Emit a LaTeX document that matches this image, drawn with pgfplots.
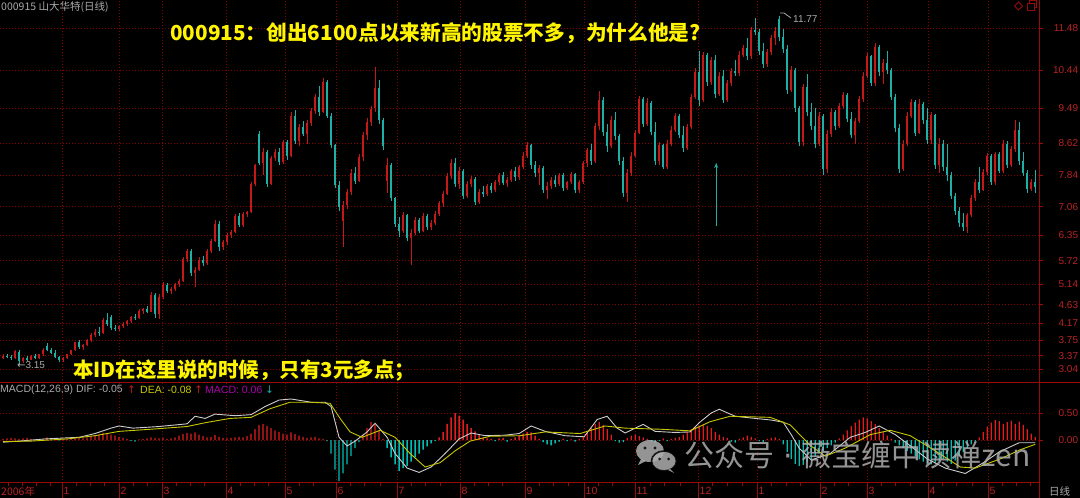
\documentclass[border=0pt]{standalone}
\usepackage{pgfplots}
\pgfplotsset{compat=1.18}
\usepackage{pgfplotstable}
\usepackage{fontspec}
\setmainfont{Liberation Sans}
\newfontfamily\cjk{Noto Sans CJK SC}
\newfontfamily\dejavu{DejaVu Sans}
\usetikzlibrary{arrows.meta}

\definecolor{kred}{RGB}{195,25,25}
\definecolor{kteal}{RGB}{30,175,165}
\definecolor{hred}{RGB}{225,30,30}
\definecolor{hteal}{RGB}{0,190,180}
\definecolor{gridred}{RGB}{135,0,0}
\definecolor{axred}{RGB}{150,10,10}
\definecolor{lblred}{RGB}{185,35,35}
\definecolor{difc}{RGB}{205,205,205}
\definecolor{deac}{RGB}{200,200,0}
\definecolor{txtgray}{RGB}{170,170,170}
\definecolor{ttl}{RGB}{255,245,0}
\definecolor{macdc}{RGB}{175,0,175}
\definecolor{wmgray}{RGB}{175,175,175}

% daily candles: index, open, high, low, close, macd bar
\pgfplotstableread{
i o h l c m
0 3.32 3.40 3.28 3.36 0.02
1 3.36 3.42 3.30 3.33 0.03
2 3.33 3.38 3.26 3.30 0.04
3 3.30 3.52 3.28 3.48 0.03
4 3.46 3.50 3.15 3.24 0.02
5 3.24 3.34 3.20 3.31 0.03
6 3.31 3.36 3.24 3.27 0.04
7 3.27 3.38 3.25 3.35 0.02
8 3.35 3.40 3.28 3.30 0.01
9 3.30 3.42 3.28 3.40 -0.01
10 3.40 3.55 3.36 3.52 0.02
11 3.60 3.68 3.48 3.50 0.05
12 3.50 3.56 3.40 3.44 0.04
13 3.44 3.50 3.30 3.33 0.01
14 3.33 3.36 3.21 3.25 -0.01
15 3.25 3.34 3.22 3.31 0.01
16 3.31 3.42 3.29 3.40 0.02
17 3.40 3.52 3.38 3.50 0.03
18 3.50 3.72 3.48 3.70 0.05
19 3.70 3.76 3.54 3.58 0.04
20 3.58 3.66 3.52 3.63 0.03
21 3.63 3.78 3.60 3.76 0.05
22 3.76 3.92 3.72 3.88 0.07
23 3.88 4.02 3.84 3.96 0.09
24 3.96 4.08 3.86 3.92 0.10
25 3.92 4.30 3.90 4.25 0.13
26 4.25 4.42 4.10 4.15 0.12
27 4.32 4.38 4.00 4.06 0.10
28 4.06 4.12 3.98 4.04 0.08
29 4.04 4.12 3.97 4.10 0.06
30 4.10 4.20 4.05 4.16 0.04
31 4.16 4.26 4.10 4.22 0.02
32 4.22 4.36 4.18 4.33 -0.02
33 4.33 4.40 4.26 4.30 -0.03
34 4.30 4.52 4.28 4.48 0.01
35 4.48 4.56 4.40 4.52 0.02
36 4.52 4.60 4.42 4.46 0.03
37 4.46 4.95 4.44 4.88 0.05
38 4.88 4.92 4.30 4.40 0.04
39 4.40 4.90 4.28 4.82 0.03
40 4.82 5.20 4.78 5.12 0.04
41 5.12 5.16 4.92 4.96 0.02
42 4.96 5.06 4.90 5.02 0.03
43 5.02 5.18 4.98 5.15 0.05
44 5.15 5.26 5.08 5.22 0.08
45 5.22 5.80 5.20 5.75 0.11
46 5.75 6.00 5.70 5.95 0.13
47 5.95 6.02 5.35 5.42 0.12
48 5.42 5.56 5.06 5.50 0.14
49 5.50 5.80 5.46 5.74 0.10
50 5.74 5.84 5.60 5.66 0.07
51 5.66 6.00 5.62 5.95 0.05
52 5.95 6.26 5.90 6.20 0.06
53 6.20 6.72 6.18 6.62 0.09
54 6.62 6.70 5.95 6.05 0.06
55 6.05 6.24 5.98 6.18 0.04
56 6.18 6.40 6.12 6.35 0.03
57 6.35 6.48 6.28 6.44 0.04
58 6.44 6.88 6.40 6.82 0.05
59 6.82 6.90 6.55 6.60 0.06
60 6.60 6.92 6.55 6.88 0.05
61 6.88 6.96 6.80 6.92 0.07
62 6.92 7.66 6.90 7.62 0.12
63 7.62 8.12 7.58 8.08 0.20
64 8.85 8.92 8.10 8.15 0.28
65 8.15 8.50 7.85 8.40 0.30
66 8.40 8.46 7.55 7.62 0.26
67 7.62 8.32 7.60 8.25 0.22
68 8.25 8.48 8.18 8.42 0.18
69 8.42 8.50 8.10 8.16 0.15
70 8.16 8.72 8.12 8.66 0.12
71 8.66 8.70 8.22 8.30 0.10
72 8.30 9.40 8.28 9.30 0.14
73 9.30 9.44 8.60 8.68 0.11
74 8.68 9.10 8.56 9.02 0.08
75 9.02 9.18 8.80 8.86 0.06
76 8.86 9.20 8.62 9.12 0.04
77 9.12 9.50 9.05 9.42 0.05
78 9.42 9.85 9.36 9.78 0.06
79 9.78 10.05 9.30 9.40 0.03
80 9.40 10.24 9.38 10.15 0.02
81 10.15 10.20 9.25 9.30 -0.02
82 9.30 9.38 8.50 8.58 -0.25
83 8.58 8.62 7.52 7.60 -0.55
84 7.60 7.70 6.95 7.05 -0.76
85 6.70 7.20 6.06 7.10 -0.62
86 7.10 7.50 7.00 7.42 -0.45
87 7.42 8.00 7.35 7.90 -0.30
88 7.90 8.05 7.62 7.70 -0.15
89 7.70 8.35 7.66 8.28 -0.04
90 8.28 8.90 8.20 8.82 0.10
91 8.82 9.25 8.70 9.15 0.22
92 9.15 9.55 9.05 9.48 0.33
93 9.50 10.51 9.40 10.00 0.30
94 10.00 10.20 9.10 9.20 0.18
95 9.20 9.25 8.45 8.55 0.02
96 7.70 8.25 7.40 8.10 -0.15
97 8.10 8.15 7.20 7.28 -0.32
98 7.28 7.30 6.55 6.62 -0.45
99 6.62 6.80 6.30 6.45 -0.57
100 6.45 6.92 6.40 6.85 -0.52
101 6.85 6.88 6.20 6.28 -0.48
102 6.28 6.50 5.62 6.40 -0.40
103 6.40 6.80 6.35 6.72 -0.32
104 6.72 6.78 6.40 6.45 -0.25
105 6.45 6.90 6.42 6.82 -0.18
106 6.82 6.88 6.48 6.55 -0.12
107 6.55 6.72 6.48 6.66 -0.06
108 6.66 6.95 6.60 6.88 -0.02
109 6.88 7.20 6.82 7.14 0.05
110 7.14 7.45 7.05 7.38 0.15
111 7.38 7.90 7.34 7.82 0.30
112 7.82 8.24 7.75 8.15 0.42
113 8.15 8.25 7.55 7.62 0.50
114 7.62 8.05 7.50 7.95 0.45
115 7.95 8.00 7.25 7.32 0.38
116 7.32 7.70 7.28 7.62 0.30
117 7.62 7.82 7.55 7.75 0.22
118 7.75 7.78 7.10 7.18 0.16
119 7.18 7.50 7.12 7.42 0.10
120 7.42 7.58 7.30 7.36 0.05
121 7.36 7.62 7.32 7.56 0.03
122 7.56 7.65 7.40 7.46 0.02
123 7.46 7.72 7.42 7.66 -0.02
124 7.66 7.90 7.60 7.84 0.03
125 7.84 7.92 7.60 7.64 0.04
126 7.64 7.80 7.55 7.72 -0.03
127 7.72 8.00 7.66 7.94 0.02
128 7.94 8.05 7.70 7.78 0.05
129 7.78 8.10 7.72 8.04 0.08
130 8.04 8.40 7.98 8.32 0.12
131 8.32 8.65 8.25 8.58 0.15
132 8.58 8.62 8.00 8.08 0.14
133 8.08 8.20 7.80 7.88 0.08
134 7.88 8.10 7.60 8.02 0.02
135 8.02 8.06 7.40 7.48 -0.04
136 7.48 7.66 7.25 7.58 -0.08
137 7.58 7.80 7.50 7.72 -0.10
138 7.72 7.85 7.55 7.62 -0.06
139 7.62 7.90 7.58 7.84 -0.03
140 7.84 7.88 7.45 7.52 0.02
141 7.52 7.70 7.48 7.66 -0.02
142 7.66 7.92 7.62 7.86 0.01
143 7.86 7.90 7.40 7.46 -0.03
144 7.46 7.72 7.40 7.66 0.02
145 7.66 8.20 7.62 8.14 0.06
146 8.14 8.52 8.05 8.46 0.14
147 8.46 8.62 8.10 8.18 0.22
148 8.18 9.12 8.15 9.05 0.30
149 9.05 9.92 8.95 9.70 0.33
150 9.70 9.78 8.80 8.90 0.28
151 8.90 9.10 8.40 8.55 0.20
152 8.55 9.30 8.50 9.20 0.10
153 9.20 9.40 8.70 8.80 -0.02
154 8.80 8.85 8.10 8.20 -0.05
155 8.20 8.28 7.30 7.40 -0.04
156 7.40 7.98 7.18 7.88 0.04
157 7.88 8.40 7.82 8.32 0.08
158 8.32 8.95 8.28 8.88 0.10
159 8.88 9.80 8.85 9.72 0.07
160 9.72 9.78 9.02 9.10 0.05
161 9.10 9.75 9.05 9.62 0.02
162 9.62 9.68 8.82 8.90 -0.03
163 8.90 9.15 8.10 8.20 -0.05
164 8.20 8.65 8.10 8.58 -0.02
165 8.58 8.62 8.00 8.05 0.03
166 8.05 8.70 8.00 8.62 -0.02
167 8.62 9.05 8.55 8.96 0.02
168 8.96 9.38 8.90 9.30 0.04
169 9.30 9.34 8.75 8.82 0.06
170 8.82 9.05 8.40 8.50 0.10
171 8.50 9.10 8.45 9.02 0.15
172 9.02 9.85 8.98 9.78 0.20
173 9.78 10.48 9.72 10.40 0.24
174 10.40 10.90 9.55 9.70 0.26
175 9.70 10.88 9.65 10.80 0.28
176 10.80 10.86 10.05 10.15 0.26
177 10.15 10.75 10.08 10.68 0.22
178 10.68 10.80 9.75 9.85 0.15
179 9.85 10.40 9.80 10.30 0.10
180 10.30 10.45 9.62 9.70 0.06
181 9.70 10.20 9.65 10.12 0.04
182 10.12 10.50 10.05 10.42 -0.03
183 10.42 10.70 10.30 10.36 -0.05
184 10.36 10.90 10.30 10.82 0.02
185 10.82 11.05 10.75 10.98 0.05
186 10.98 11.22 10.70 10.78 0.08
187 10.78 11.50 10.72 11.42 0.06
188 11.42 11.73 11.30 11.38 0.03
189 11.38 11.45 10.80 10.90 -0.02
190 10.90 11.10 10.50 10.60 -0.04
191 10.60 10.95 10.52 10.88 0.02
192 10.88 11.30 10.80 11.22 0.04
193 11.22 11.50 11.05 11.40 0.05
194 11.70 11.77 11.15 11.25 0.02
195 11.25 11.45 10.85 10.95 -0.08
196 10.95 11.05 9.85 9.95 -0.22
197 9.95 10.55 9.90 10.45 -0.35
198 10.45 10.50 9.40 9.50 -0.44
199 9.50 9.55 8.55 8.65 -0.48
200 8.65 10.10 8.55 10.02 -0.46
201 10.02 10.35 9.30 9.40 -0.40
202 9.40 9.62 8.95 9.05 -0.35
203 9.05 9.50 8.50 8.62 -0.30
204 8.62 9.40 8.55 9.30 -0.25
205 9.30 9.35 7.84 8.00 -0.20
206 8.00 8.95 7.90 8.85 -0.15
207 8.85 9.50 8.78 9.40 -0.10
208 9.40 9.45 8.95 9.05 -0.05
209 9.05 9.62 9.00 9.55 0.03
210 9.55 9.90 9.48 9.82 0.10
211 9.82 9.88 9.15 9.22 0.18
212 9.22 9.40 8.75 8.82 0.26
213 8.82 9.25 8.60 9.18 0.32
214 9.18 9.80 9.12 9.72 0.38
215 9.72 10.40 9.65 10.30 0.42
216 10.30 10.85 10.25 10.78 0.40
217 10.78 10.82 10.05 10.12 0.35
218 10.12 11.11 10.05 11.02 0.30
219 11.02 11.05 10.30 10.40 0.22
220 10.40 10.72 10.10 10.62 0.15
221 10.62 10.90 10.35 10.45 0.08
222 10.45 10.50 9.70 9.78 0.02
223 9.78 9.85 8.90 9.00 -0.05
224 9.00 9.10 7.90 8.00 -0.10
225 8.00 8.70 7.95 8.62 -0.15
226 8.62 9.40 8.55 9.30 -0.20
227 9.30 9.72 9.25 9.65 -0.25
228 9.65 9.70 8.80 8.88 -0.30
229 8.88 9.72 8.85 9.60 -0.36
230 9.60 9.66 9.10 9.20 -0.40
231 9.20 9.50 8.62 8.70 -0.43
232 8.70 9.40 8.60 9.32 -0.45
233 9.32 9.36 8.00 8.10 -0.42
234 8.10 8.75 7.88 8.62 -0.38
235 8.62 8.70 7.95 8.05 -0.35
236 8.05 8.60 7.70 7.85 -0.40
237 7.85 7.92 7.25 7.32 -0.44
238 7.32 7.40 6.85 6.95 -0.38
239 6.95 7.05 6.55 6.65 -0.30
240 6.65 6.90 6.45 6.55 -0.22
241 6.55 6.90 6.41 6.85 -0.15
242 6.85 7.35 6.80 7.28 -0.08
243 7.28 7.75 7.20 7.68 -0.02
244 7.68 8.05 7.40 7.48 0.05
245 7.48 8.00 7.44 7.92 0.15
246 7.92 8.38 7.85 8.30 0.25
247 8.30 8.35 7.60 7.68 0.32
248 7.68 8.42 7.60 8.35 0.37
249 8.35 8.40 7.88 7.95 0.35
250 7.95 8.72 7.90 8.62 0.30
251 8.62 8.68 8.02 8.10 0.33
252 8.10 8.55 8.05 8.48 0.36
253 8.48 9.20 8.40 8.95 0.30
254 8.95 9.15 8.10 8.20 0.34
255 8.20 8.40 7.82 7.90 0.28
256 7.90 7.96 7.40 7.50 0.20
257 7.50 7.75 7.45 7.68 0.12
258 7.68 7.97 7.40 7.55 0.06
}\kline

\pgfplotstableread{
i dif
0 -0.04
4 -0.02
10.5 0.02
16 0.04
19 0.05
23 0.12
27 0.22
29 0.26
32.5 0.22
39 0.25
46 0.30
48 0.44
50.5 0.40
53 0.48
58 0.45
62 0.47
65.5 0.62
69 0.74
72 0.76
77 0.70
80.5 0.70
82 0.62
84 0.05
86 -0.11
88 -0.02
91 0.15
93 0.31
96 0.05
98 -0.25
101 -0.52
104 -0.60
107 -0.50
110.5 -0.25
114 0.02
117 0.13
120.5 0.08
125.5 0.09
129 0.12
132 0.26
135.5 0.16
140.5 0.08
145.25 0.06
148.5 0.38
151 0.44
153.5 0.22
155.5 0.13
160 0.29
163 0.16
168 0.14
171.75 0.15
174 0.32
177 0.50
179 0.57
183 0.44
188 0.40
192 0.37
195 0.33
197 0.10
199 -0.15
202 -0.37
206.75 -0.25
211.75 0.05
215.5 0.14
219 0.26
223 0.10
227 -0.12
231 -0.35
235.5 -0.52
240.5 -0.62
245.5 -0.40
249 -0.22
254 -0.05
258 -0.05
}\difline

\pgfplotstableread{
i dea
0 -0.03
7 -0.02
16 0.02
23 0.08
29 0.16
37 0.20
46 0.25
50.5 0.32
56.75 0.40
62 0.42
66.75 0.58
71.75 0.70
76.75 0.70
81.75 0.68
84.25 0.40
86.75 0.15
89.75 0.05
94.25 0.18
98 0.05
101.75 -0.25
105.5 -0.50
109.25 -0.42
113 -0.20
116.75 -0.02
121.75 0.07
129.25 0.08
135.5 0.15
144.25 0.12
150.5 0.26
155.5 0.22
164.25 0.20
171.75 0.17
176.75 0.34
181.75 0.44
191.75 0.42
196.75 0.28
201.75 -0.10
205.5 -0.30
210.5 -0.15
216.75 0.10
221.75 0.18
226.75 0.08
233 -0.20
239.25 -0.50
243 -0.52
249.25 -0.35
254.25 -0.18
258 -0.08
}\dealine

\pgfplotsset{
  panel/.style={
    scale only axis, width=1039pt,
    xmin=-0.75, xmax=259,
    axis line style={draw=none},
    xtick={14.75,29,39.75,55.75,70.5,83.25,98.5,114.25,130.5,145.25,158,173.75,188.5,204.25,216,231.25,246.25},
    xticklabels={}, xtick style={draw=none},
    ytick pos=right, yticklabel pos=right,
    ytick style={axred, line width=0.8pt},
    major tick length=4pt, tick align=outside,
    yticklabel style={font=\fontsize{10}{12}\selectfont, text=lblred, anchor=east, xshift=35pt, inner sep=0pt,
      /pgf/number format/fixed, /pgf/number format/fixed zerofill,
      /pgf/number format/precision=2, /pgf/number format/assume math mode=true},
    grid=major, grid style={gridred, line width=0.7pt, dash pattern=on 0.8pt off 2.2pt},
  },
}

\begin{document}
\begin{tikzpicture}[x=1pt,y=1pt]
\fill[black] (0,0) rectangle (1080,498);

% price panel
\begin{axis}[panel, at={(0pt,115pt)}, anchor=south west, height=383pt,
  ymin=2.693, ymax=12.173,
  ytick={3.04,3.37,3.75,4.17,4.63,5.14,5.72,6.35,7.06,7.84,8.62,9.49,10.44,11.48}]
\addplot[kred, line width=0.9pt, quiver={u=0,v=\thisrow{h}-\thisrow{l}},
  restrict expr to domain={\thisrow{c}-\thisrow{o}}{0:100}] table[x=i,y=l]{\kline};
\addplot[kred, line width=2.3pt, quiver={u=0,v=\thisrow{c}-\thisrow{o}},
  restrict expr to domain={\thisrow{c}-\thisrow{o}}{0:100}] table[x=i,y=o]{\kline};
\addplot[kteal, line width=0.9pt, quiver={u=0,v=\thisrow{h}-\thisrow{l}},
  restrict expr to domain={\thisrow{c}-\thisrow{o}}{-100:-0.001}] table[x=i,y=l]{\kline};
\addplot[kteal, line width=2.3pt, quiver={u=0,v=\thisrow{c}-\thisrow{o}},
  restrict expr to domain={\thisrow{c}-\thisrow{o}}{-100:-0.001}] table[x=i,y=o]{\kline};
\draw[kteal, line width=1pt, -{Stealth[length=5pt,width=4pt]}] (axis cs:178.25,6.58) -- (axis cs:178.25,8.14);
\end{axis}

% MACD panel
\begin{axis}[panel, at={(0pt,15pt)}, anchor=south west, height=100pt,
  ymin=-0.796, ymax=1.056, ytick={0,0.5}]
\addplot[ybar, bar width=1.3pt, bar shift=0pt, fill=hred, draw=none,
  restrict y to domain=0:10] table[x=i,y=m]{\kline};
\addplot[ybar, bar width=1.3pt, bar shift=0pt, fill=hteal, draw=none,
  restrict y to domain=-10:-0.0001] table[x=i,y=m]{\kline};
\addplot[difc, line width=0.9pt] table[x=i,y=dif]{\difline};
\addplot[deac, line width=0.9pt] table[x=i,y=dea]{\dealine};
\end{axis}

% frame lines
\draw[axred, line width=1pt] (1039,0) -- (1039,498);
\draw[axred, line width=1pt] (0,115) -- (1080,115);
\draw[axred, line width=1pt] (0,15) -- (1039,15);
\foreach \x in {8,22,36,50,76,90,104,133,147,176,190,204,240,254,268,299,313,350,364,380,411,425,440,474,488,502,539,553,568,598,612,650,664,680,712,727,742,771,786,800,834,848,881,895,910,942,956,972,1002,1016,1030}
  \draw[axred, line width=0.7pt] (\x,15) -- (\x,12);
\foreach \x/\t in {62/1,119/2,162/3,226/4,285/5,336/6,397/7,460/8,525/9,584/10,635/11,698/12,757/1,820/2,867/3,928/4,988/5}{
  \draw[axred, line width=1pt] (\x,0) -- (\x,15);
  \node[anchor=west, inner sep=0pt, text=lblred, font=\fontsize{10.5}{12}\selectfont] at (\x+1.5,7) {\t};
}
\node[anchor=west, inner sep=0pt, text=lblred, font={\cjk\fontsize{10.5}{12}\selectfont}] at (1,7) {2006年};
\node[anchor=west, inner sep=0pt, text=txtgray, font={\cjk\fontsize{10.5}{12}\selectfont}] at (1049,7) {日线};

% header texts
\node[anchor=west, inner sep=0pt, text=txtgray, font={\cjk\fontsize{10.5}{12}\selectfont}] at (1,491) {000915 山大华特(日线)};
\node[anchor=west, inner sep=0pt, text=ttl, font={\cjk\bfseries\fontsize{20.7}{24}\selectfont}] at (170,465) {000915：创出6100点以来新高的股票不多，为什么他是?};
\node[anchor=west, inner sep=0pt, text=ttl, font={\cjk\bfseries\fontsize{20.5}{24}\selectfont}] at (73,127) {本ID在这里说的时候，只有3元多点；};

% price marks
\node[anchor=west, inner sep=0pt, text=txtgray, font=\fontsize{10}{11}\selectfont] at (17,133) {{\dejavu ←}3.15};
\draw[txtgray, line width=0.8pt] (780,485) -- (784,485) -- (791,480);
\node[anchor=west, inner sep=0pt, text=txtgray, font=\fontsize{10}{11}\selectfont] at (793,479) {11.77};

% MACD legend
\begin{scope}[every node/.style={anchor=west, inner sep=0pt, font=\fontsize{10.5}{12}\selectfont}]
\node[text=txtgray] at (0,108) {MACD(12,26,9) DIF: -0.05};
\node[text=kred] at (127,108) {\dejavu ↑};
\node[text=deac] at (140,108) {DEA: -0.08};
\node[text=kred] at (194,108) {\dejavu ↑};
\node[text=macdc] at (205,108) {MACD: 0.06};
\node[text=kteal] at (265,108) {\dejavu ↓};
\end{scope}

% top right icons
\draw[axred, line width=0.8pt] (1018.5,496) -- (1022.5,492) -- (1018.5,488) -- (1014.5,492) -- cycle;
\draw[axred, line width=0.8pt] (1027,488) rectangle (1034,495);
\draw[axred, line width=0.8pt] (1029.5,495) -- (1029.5,497.5) -- (1036.5,497.5) -- (1036.5,490.5) -- (1034,490.5);

% watermark
\begin{scope}[opacity=0.85]
\fill[wmgray] (650,47) ellipse (14 and 11);
\fill[wmgray] (641,39) -- (638,33) -- (646,37) -- cycle;
\fill[black] (645,50) circle (1.7);
\fill[black] (655,50) circle (1.7);
\draw[black, line width=1.6pt, fill=wmgray] (664,37) ellipse (12.5 and 10);
\fill[wmgray] (670,29) -- (674,25) -- (668,28) -- cycle;
\fill[black] (659.5,39) circle (1.5);
\fill[black] (668.5,39) circle (1.5);
\node[anchor=west, inner sep=0pt, text=wmgray, font={\cjk\fontsize{30}{32}\selectfont}] at (684,43) {公众号\hspace{9pt}{\dejavu ·}\hspace{9pt}薇宝缠中读禅zen};
\end{scope}

\pgfresetboundingbox
\useasboundingbox (0,0) rectangle (1080,498);
\end{tikzpicture}
\end{document}
